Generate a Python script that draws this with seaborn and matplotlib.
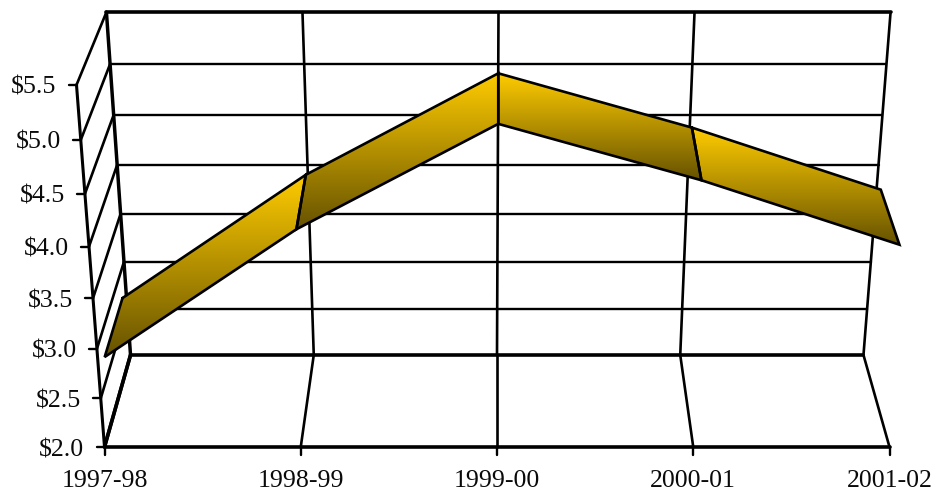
import numpy as np
import pandas as pd
import matplotlib
matplotlib.use('Agg')
import matplotlib.pyplot as plt
from matplotlib.patches import Polygon
from matplotlib.colors import LinearSegmentedColormap
import seaborn as sns

categories = ['1997-98', '1998-99', '1999-00', '2000-01', '2001-02']
values = [2.73, 4.0, 5.0, 4.47, 3.85]
y_ticks = [2.0, 2.5, 3.0, 3.5, 4.0, 4.5, 5.0, 5.5]
y_labels = ['$2.0', '$2.5', '$3.0', '$3.5', '$4.0', '$4.5', '$5.0', '$5.5']

sns.set_theme(style='white')
plt.rcParams['font.family'] = ['Liberation Serif', 'DejaVu Serif']
plt.rcParams['text.parse_math'] = False


# perspective of the old 3D chart, screen pixels out
def project(i, value, depth):
    v = (value - 2.0) / 3.5
    q = 1 + 0.071 * depth - 0.0699 * v
    x = 497 + 1.5 * v + (i - 2) * 196.25 / q
    y = (447 - 66.8 * depth - 368 * v) / q
    return x, y


def draw_line(ax, pts, lw=1.9):
    df = pd.DataFrame(pts, columns=['x', 'y'])
    sns.lineplot(data=df, x='x', y='y', sort=False, estimator=None, color='black',
                 linewidth=lw, ax=ax, solid_capstyle='round', solid_joinstyle='miter')


fig, ax = plt.subplots(figsize=(9.34, 4.92), dpi=100)
ax.set_position([0, 0, 1, 1])

last = len(categories) - 1
low, top = y_ticks[0], y_ticks[-1]

# back wall and left wall grid
for t in y_ticks:
    lw = 2.6 if t in (low, top) else 1.7
    draw_line(ax, [project(0, t, 1), project(last, t, 1)], lw)
    draw_line(ax, [project(0, t, 0), project(0, t, 1)], 2.6 if t == low else 1.9)
    x, y = project(0, t, 0)
    draw_line(ax, [(x - 8, y), (x, y)], 1.7)
    ax.text(x - 20, y + 3, y_labels[y_ticks.index(t)], ha='right', va='center', fontsize=18.6, color='#0a0a0a')

# verticals on back wall, floor lines
for i in range(len(categories)):
    lw = 2.5 if i == 0 else 1.9
    draw_line(ax, [project(i, low, 1), project(i, top, 1)], lw)
    draw_line(ax, [project(i, low, 0), project(i, low, 1)], lw)
    x, y = project(i, low, 0)
    draw_line(ax, [(x, y), (x, y + 8)], 1.7)
    ax.text(x, y + 34, categories[i], ha='center', va='center', fontsize=18.6, color='#0a0a0a')
draw_line(ax, [project(0, low, 0), project(last, low, 0)], 2.6)
draw_line(ax, [project(0, low, 0), project(0, top, 0)], 2.2)

# ribbon, each piece has its own top to bottom gradient
gold = LinearSegmentedColormap.from_list('gold', ['#ffcc00', '#665200'])
d_front, d_back = 0.2, 0.87
grad = np.linspace(0, 1, 256).reshape(-1, 1)
for i in range(last):
    pts = [project(i, values[i], d_back), project(i + 1, values[i + 1], d_back),
           project(i + 1, values[i + 1], d_front), project(i, values[i], d_front)]
    xs = [p[0] for p in pts]
    ys = [p[1] for p in pts]
    im = ax.imshow(grad, cmap=gold, aspect='auto', zorder=3,
                   extent=(min(xs), max(xs), max(ys), min(ys)))
    patch = Polygon(pts, closed=True, transform=ax.transData, fill=False, edgecolor='none')
    ax.add_patch(patch)
    im.set_clip_path(patch)

for i in range(last):
    pts = [project(i, values[i], d_back), project(i + 1, values[i + 1], d_back),
           project(i + 1, values[i + 1], d_front), project(i, values[i], d_front),
           project(i, values[i], d_back)]
    n = len(ax.lines)
    draw_line(ax, pts, 1.9)
    for ln in ax.lines[n:]:
        ln.set_zorder(4)

ax.set_xlim(0, 934)
ax.set_ylim(492, 0)
ax.set_xlabel('')
ax.set_ylabel('')
ax.set_xticks([])
ax.set_yticks([])
sns.despine(ax=ax, left=True, bottom=True)
fig.savefig('out.png', dpi=100, facecolor='white')
